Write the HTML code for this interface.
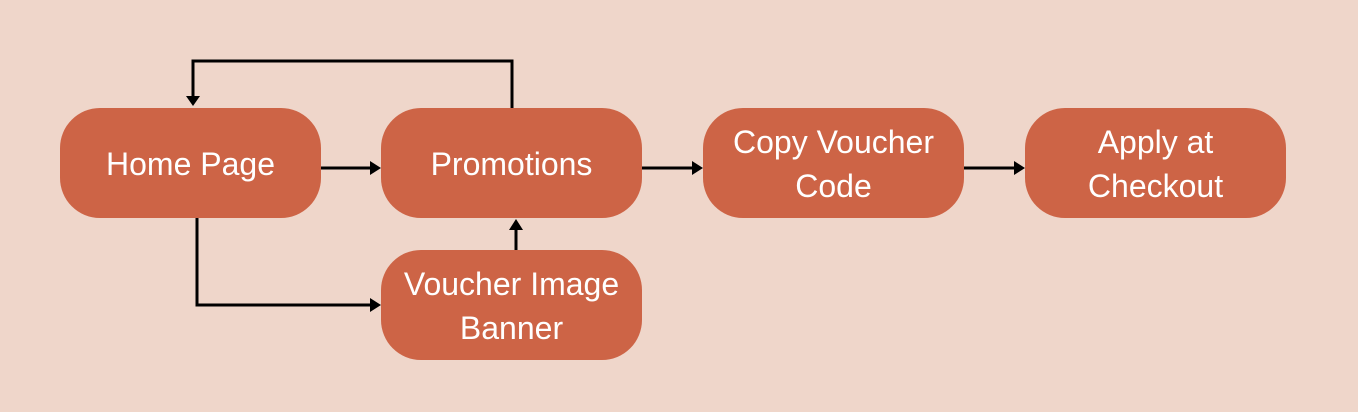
<!DOCTYPE html>
<html><head><style>
body{margin:0;width:1358px;height:412px;background:#EFD6CA;position:relative;overflow:hidden;font-family:"Liberation Sans",sans-serif}
.n{position:absolute;width:261px;height:110px;background:#CD6446;border-radius:40px;color:#fff;font-size:32px;line-height:44px;display:flex;align-items:center;justify-content:center;text-align:center;padding-top:2px;box-sizing:border-box}
svg{position:absolute;left:0;top:0}
</style></head><body>
<div class="n" style="left:60px;top:108px">Home Page</div>
<div class="n" style="left:381px;top:108px">Promotions</div>
<div class="n" style="left:703px;top:108px">Copy Voucher<br>Code</div>
<div class="n" style="left:1025px;top:108px">Apply at<br>Checkout</div>
<div class="n" style="left:381px;top:250px">Voucher Image<br>Banner</div>
<svg width="1358" height="412">
<g stroke="#000" stroke-width="3" fill="none">
<polyline points="512,108 512,61 193,61 193,96"/>
<line x1="321" y1="168" x2="370" y2="168"/>
<line x1="642" y1="168" x2="692" y2="168"/>
<line x1="964" y1="168" x2="1014" y2="168"/>
<polyline points="197,218 197,305 370,305"/>
<line x1="516" y1="250" x2="516" y2="230"/>
</g>
<g fill="#000">
<polygon points="186,96 200,96 193,106"/>
<polygon points="370,161 370,175 381,168"/>
<polygon points="692,161 692,175 703,168"/>
<polygon points="1014,161 1014,175 1025,168"/>
<polygon points="370,298 370,312 381,305"/>
<polygon points="509,230 523,230 516,219"/>
</g>
</svg>
</body></html>
